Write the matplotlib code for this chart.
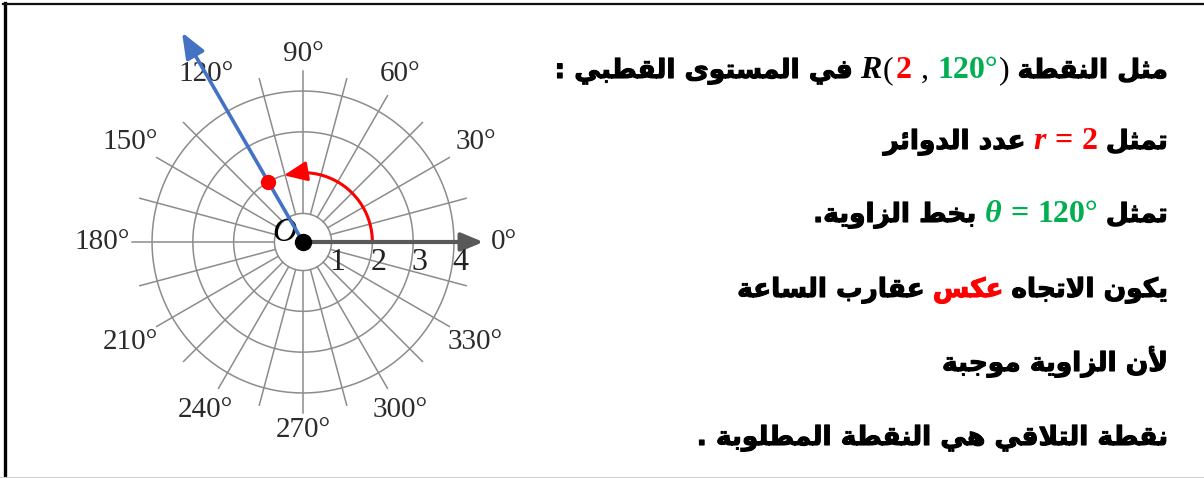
import matplotlib
matplotlib.use('Agg')
import matplotlib.pyplot as plt
import matplotlib.patheffects as pe
import numpy as np
from matplotlib.lines import Line2D

# ---- data ----
ring_r = [1, 2, 3, 4]
ring_labels = ['1', '2', '3', '4']
spoke_deg = list(range(0, 360, 15))
angle_deg = list(range(0, 360, 30))
angle_labels = [f'{a}°' for a in angle_deg]
point_r = 2
point_deg = 120

# colours
RED = '#FF0000'
GREEN = '#00B050'
BLACK = '#000000'
GRID = '#8c8c8c'

# text lines, segments in reading order (right to left), pieces inside a segment left to right
LINES = [
    [[('مثل النقطة', BLACK, 'ar')],
     [('R', BLACK, 'it'), ('(', BLACK, 'rm'), ('2', RED, 'bf'), (',', BLACK, 'rm'),
      ('120°', GREEN, 'bf'), (')', BLACK, 'rm')],
     [('في المستوى القطبي :', BLACK, 'ar')]],
    [[('تمثل', BLACK, 'ar')],
     [('r', RED, 'it'), ('=', RED, 'bf'), ('2', RED, 'bf')],
     [('عدد الدوائر', BLACK, 'ar')]],
    [[('تمثل', BLACK, 'ar')],
     [('θ', GREEN, 'it'), ('=', GREEN, 'bf'), ('120°', GREEN, 'bf')],
     [('بخط الزاوية.', BLACK, 'ar')]],
    [[('يكون الاتجاه', BLACK, 'ar')],
     [('عكس', RED, 'ar')],
     [('عقارب الساعة', BLACK, 'ar')]],
    [[('لأن الزاوية موجبة', BLACK, 'ar')]],
    [[('نقطة التلاقي هي النقطة المطلوبة .', BLACK, 'ar')]],
]
# small gaps (px) after pieces inside the math groups
GAPS = {'R': 1, '(': 2, '2': 9, ',': 9, '120°': 1, 'r': 9, 'θ': 9, '=': 9}

# ---- minimal arabic shaping (matplotlib has no complex text layout) ----
AR_FORMS = {
    'ء': (0xFE80, 1), 'آ': (0xFE81, 2), 'أ': (0xFE83, 2), 'ؤ': (0xFE85, 2),
    'إ': (0xFE87, 2), 'ئ': (0xFE89, 4), 'ا': (0xFE8D, 2), 'ب': (0xFE8F, 4),
    'ة': (0xFE93, 2), 'ت': (0xFE95, 4), 'ث': (0xFE99, 4), 'ج': (0xFE9D, 4),
    'ح': (0xFEA1, 4), 'خ': (0xFEA5, 4), 'د': (0xFEA9, 2), 'ذ': (0xFEAB, 2),
    'ر': (0xFEAD, 2), 'ز': (0xFEAF, 2), 'س': (0xFEB1, 4), 'ش': (0xFEB5, 4),
    'ص': (0xFEB9, 4), 'ض': (0xFEBD, 4), 'ط': (0xFEC1, 4), 'ظ': (0xFEC5, 4),
    'ع': (0xFEC9, 4), 'غ': (0xFECD, 4), 'ف': (0xFED1, 4), 'ق': (0xFED5, 4),
    'ك': (0xFED9, 4), 'ل': (0xFEDD, 4), 'م': (0xFEE1, 4), 'ن': (0xFEE5, 4),
    'ه': (0xFEE9, 4), 'و': (0xFEED, 2), 'ى': (0xFEEF, 2), 'ي': (0xFEF1, 4),
}
LAM_ALEF = {'آ': 0xFEF5, 'أ': 0xFEF7, 'إ': 0xFEF9, 'ا': 0xFEFB}


def shape_ar(s):
    out = []
    prev_joins = False
    i = 0
    while i < len(s):
        c = s[i]
        if c not in AR_FORMS:
            out.append(c)
            prev_joins = False
            i += 1
            continue
        nxt = s[i + 1] if i + 1 < len(s) else ''
        if c == 'ل' and nxt in LAM_ALEF:
            out.append(chr(LAM_ALEF[nxt] + (1 if prev_joins else 0)))
            prev_joins = False
            i += 2
            continue
        base, nf = AR_FORMS[c]
        next_join = nf == 4 and nxt in AR_FORMS and nxt != 'ء'
        if nf == 1:
            form = 0
        elif prev_joins and next_join:
            form = 3
        elif prev_joins:
            form = 1
        elif next_join:
            form = 2
        else:
            form = 0
        out.append(chr(base + form))
        prev_joins = nf == 4
        i += 1
    return ''.join(reversed(out))


# ---- figure ----
W, H = 1204, 478
fig = plt.figure(figsize=(W / 100, H / 100), dpi=100)
fig.patch.set_facecolor('white')

cx, cy = 303, 242          # pole position in pixels
R_MIN, R_MAX = 0.3, 5.4
k = 40.8                   # px per unit
half = (R_MAX - R_MIN) * k
ax = fig.add_axes([(cx - half) / W, (H - cy - half) / H, 2 * half / W, 2 * half / H],
                  projection='polar')
ax.set_ylim(R_MIN, R_MAX)
ax.axis('off')

theta = np.linspace(0, 2 * np.pi, 361)
for r in ring_r:
    ax.plot(theta, np.full_like(theta, r), color=GRID, lw=1.1, clip_on=False)

for d in spoke_deg:
    if d == 0:
        continue
    end = 4.49 if d % 90 == 0 else 4.44
    ax.plot([np.radians(d)] * 2, [ring_r[0], end], color=GRID, lw=1.1, clip_on=False)

# polar axis arrow
ax.annotate('', xy=(0, 4.72), xytext=(0, R_MIN), annotation_clip=False,
            arrowprops=dict(arrowstyle='-|>,head_length=0.6,head_width=0.25',
                            color='#595959', lw=3, mutation_scale=22,
                            shrinkA=0, shrinkB=0))

# terminal side of the angle
ax.annotate('', xy=(np.radians(point_deg), 6.23), xytext=(0, R_MIN), annotation_clip=False,
            arrowprops=dict(arrowstyle='-|>,head_length=0.7,head_width=0.28',
                            color='#4472C4', lw=2.6, mutation_scale=22,
                            shrinkA=0, shrinkB=0), zorder=4)

# counter-clockwise arc
arc_t = np.radians(np.linspace(0, 98, 100))
ax.plot(arc_t, np.full_like(arc_t, point_r), color=RED, lw=2.2, clip_on=False)
ax.annotate('', xy=(np.radians(106), point_r), xytext=(np.radians(94), point_r),
            annotation_clip=False,
            arrowprops=dict(arrowstyle='-|>,head_length=0.7,head_width=0.3',
                            color=RED, lw=2.2, mutation_scale=20,
                            shrinkA=0, shrinkB=0))

ax.plot(np.radians(point_deg), point_r, 'o', color=RED, ms=10, zorder=6, clip_on=False)
ax.plot(0, R_MIN, 'o', color=BLACK, ms=11.5, zorder=7, clip_on=False)
ax.annotate('O', xy=(0, R_MIN), xytext=(-13.5, 6.5), textcoords='offset points',
            ha='center', va='center', fontsize=24, style='italic',
            family='Liberation Serif', color=BLACK)

for r, lab in zip(ring_r, ring_labels):
    ax.annotate(lab, xy=(0, r), xytext=(4.3, -4.0), textcoords='offset points',
                ha='center', va='top', fontsize=23, family='Liberation Serif',
                color='#222222')

for a, lab in zip(angle_deg, angle_labels):
    r_px = 188 + 13 * abs(np.cos(np.radians(a)))
    ax.text(np.radians(a), R_MIN + r_px / k, lab, ha='center', va='center', fontsize=21,
            family='Liberation Serif', color='#2b2b2b', clip_on=False)

# ---- right-to-left text block ----
renderer = fig.canvas.get_renderer()
AR_FS = 19
MATH_FS = 23


def make_text(s, color, style):
    if style == 'ar':
        kw = dict(fontsize=AR_FS, family='DejaVu Sans', weight='bold',
                  path_effects=[pe.withStroke(linewidth=0.8, foreground=color)])
        s = shape_ar(s)
    else:
        kw = dict(fontsize=MATH_FS, family='Liberation Serif', weight='bold')
        if style == 'it':
            kw['style'] = 'italic'
        elif style == 'rm':
            kw['weight'] = 'normal'
    return fig.text(0, 0, s, color=color, ha='left', va='baseline', **kw)


baselines = [78, 149, 222, 297, 371, 445]
right_edge = 1168
word_gap = 0.3 * AR_FS * 100 / 72

for segs, yb in zip(LINES, baselines):
    cur = right_edge
    for seg in segs:
        texts = [(make_text(s, c, st), s) for s, c, st in seg]
        widths = [t.get_window_extent(renderer).width for t, _ in texts]
        gaps = [GAPS.get(s, 0) for _, s in texts[:-1]] + [0]
        total = sum(widths) + sum(gaps)
        x = cur - total
        for (t, _), w_, g in zip(texts, widths, gaps):
            t.set_position((x / W, 1 - yb / H))
            x += w_ + g
        cur = cur - total - word_gap

# frame
fig.add_artist(Line2D([4.5 / W, 4.5 / W], [0, 1 - 3 / H], color=BLACK, lw=2.4))
fig.add_artist(Line2D([3 / W, 1], [1 - 3.7 / H] * 2, color='#111111', lw=1.6))
fig.add_artist(Line2D([0, 1], [1 - 476.5 / H] * 2, color='#d0d0d0', lw=0.8))

fig.savefig('out.png', dpi=100)
